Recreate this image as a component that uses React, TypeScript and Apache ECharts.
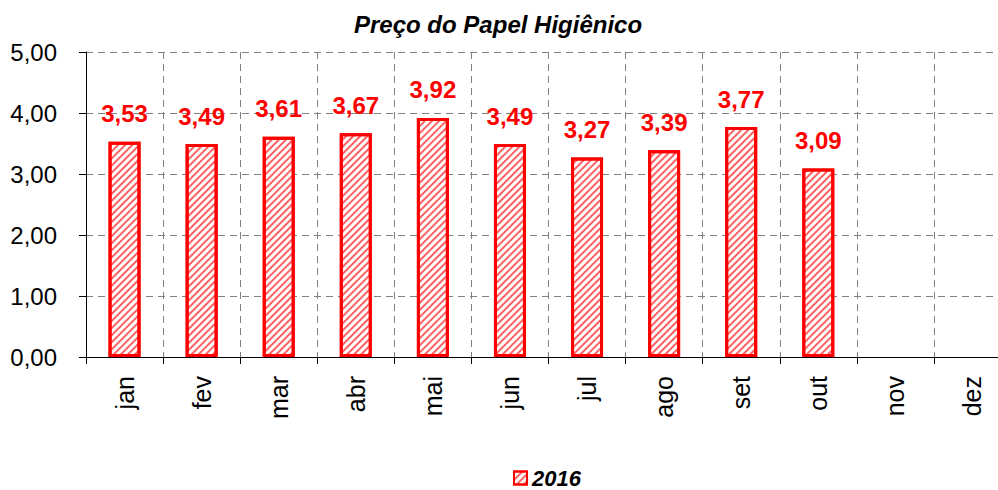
import React, { useEffect, useRef } from "react";
import * as echarts from "echarts";

const months = ["jan", "fev", "mar", "abr", "mai", "jun", "jul", "ago", "set", "out", "nov", "dez"];
const values2016: (number | null)[] = [3.53, 3.49, 3.61, 3.67, 3.92, 3.49, 3.27, 3.39, 3.77, 3.09, null, null];
const seriesName = "2016";
const titleText = "Preço do Papel Higiênico";

const FONT = "'Liberation Sans', Arial, sans-serif";
const RED = "#ff0000";

const fmt = (v: number) => v.toFixed(2).replace(".", ",");

export default function App() {
  const ref = useRef<HTMLDivElement>(null);
  useEffect(() => {
    document.body.style.margin = "0";
    const chart = echarts.init(ref.current!, undefined, { renderer: "svg" });
    chart.setOption({
      animation: false,
      backgroundColor: "#fff",
      title: {
        text: titleText,
        left: 349,
        top: 7,
        textStyle: { fontFamily: FONT, fontSize: 24, fontWeight: "bold", fontStyle: "italic", color: "#000" },
      },
      legend: {
        data: [seriesName],
        left: 513,
        top: 467,
        padding: 0,
        icon: "rect",
        itemWidth: 13,
        itemHeight: 13,
        itemGap: 8,
        itemStyle: { borderWidth: 2 },
        textStyle: { fontFamily: FONT, fontSize: 22, fontWeight: "bold", fontStyle: "italic", color: "#000" },
      },
      grid: { left: 86, top: 52, right: 1, height: 305, containLabel: false },
      xAxis: {
        type: "category",
        data: months,
        boundaryGap: true,
        axisLine: { lineStyle: { color: "#000", width: 1 } },
        axisTick: { show: true, length: 7, lineStyle: { color: "#000" } },
        axisLabel: { rotate: 90, margin: 19, fontFamily: FONT, fontSize: 25, color: "#000" },
        splitLine: { show: true, lineStyle: { color: "#808080", type: [7, 5], width: 1 } },
      },
      yAxis: {
        type: "value",
        min: 0,
        max: 5,
        interval: 1,
        axisLine: { show: true, lineStyle: { color: "#000", width: 1 } },
        axisTick: { show: true, length: 7, lineStyle: { color: "#000" } },
        axisLabel: { margin: 29, fontFamily: FONT, fontSize: 24, color: "#000", formatter: (v: number) => fmt(v) },
        splitLine: { show: true, lineStyle: { color: "#808080", type: [7, 5], width: 1 } },
      },
      series: [
        {
          name: seriesName,
          type: "bar",
          data: values2016,
          barWidth: 32,
          itemStyle: {
            color: "#ffffff",
            borderColor: RED,
            borderWidth: 3,
            decal: {
              symbol: "rect",
              symbolSize: 1,
              color: "rgba(255,0,0,0.62)",
              dashArrayX: [1, 0],
              dashArrayY: [1.3, 2.3],
              rotation: -Math.PI / 4,
            },
          },
          label: {
            show: true,
            position: "top",
            distance: 16,
            fontFamily: FONT,
            fontSize: 24,
            fontWeight: "bold",
            color: RED,
            formatter: (p: any) => fmt(p.value),
          },
        },
      ],
    });
    return () => chart.dispose();
  }, []);
  return (
    <div style={{ width: 998, height: 490, overflow: "hidden", position: "relative" }}>
      <div ref={ref} style={{ width: 1012, height: 490 }} />
    </div>
  );
}
